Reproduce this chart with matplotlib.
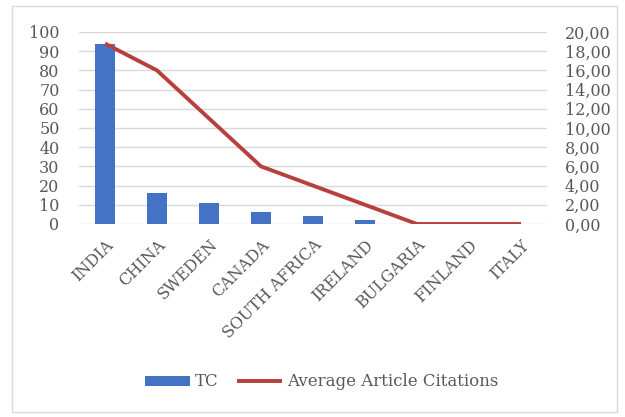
import matplotlib
matplotlib.use("Agg")
import matplotlib.pyplot as plt
from matplotlib.patches import Rectangle
from matplotlib.ticker import FuncFormatter

countries = ["INDIA", "CHINA", "SWEDEN", "CANADA", "SOUTH AFRICA",
             "IRELAND", "BULGARIA", "FINLAND", "ITALY"]
total_citations = [94, 16, 11, 6, 4, 2, 0, 0, 0]
avg_article_citations = [18.8, 16.0, 11.0, 6.0, 4.0, 2.0, 0.0, 0.0, 0.0]

BAR_COLOR = "#4472C4"
LINE_COLOR = "#B8403C"
TEXT_COLOR = "#595959"
GRID_COLOR = "#D9D9D9"
FS = 11.5

plt.rcParams["font.family"] = ["DejaVu Serif"]

W, H = 625, 417
fig = plt.figure(figsize=(W / 100, H / 100), dpi=100)
fig.patch.set_facecolor("white")

# light frame around the chart area
fig.add_artist(Rectangle((12 / W, 5 / H), 605 / W, 406 / H,
                         transform=fig.transFigure, fill=False,
                         edgecolor="#D9D9D9", linewidth=1.0))

ax = fig.add_axes([79 / W, 1 - 224 / H, 468 / W, 192 / H])
x = list(range(len(countries)))
bars = ax.bar(x, total_citations, width=0.38, color=BAR_COLOR, zorder=2,
              label="TC")
ax.set_xlim(-0.5, len(countries) - 0.5)
ax.set_ylim(0, 100)
ax.set_yticks(range(0, 101, 10))
ax.yaxis.grid(True, color=GRID_COLOR, linewidth=1.0, zorder=0)
ax.set_axisbelow(True)
for s in ax.spines.values():
    s.set_visible(False)
ax.tick_params(axis="both", length=0, colors=TEXT_COLOR, labelsize=FS)
ax.tick_params(axis="y", pad=14)
ax.tick_params(axis="x", pad=9)
ax.set_xticks(x)
ax.set_xticklabels(countries, rotation=45, ha="right", rotation_mode="anchor",
                   fontsize=FS, color=TEXT_COLOR)

ax2 = ax.twinx()
line, = ax2.plot(x, avg_article_citations, color=LINE_COLOR, linewidth=2.8,
                 solid_capstyle="butt", zorder=3,
                 label="Average Article Citations")
ax2.set_ylim(0, 20)
ax2.set_yticks(range(0, 21, 2))
ax2.yaxis.set_major_formatter(FuncFormatter(lambda v, _: f"{v:.2f}".replace(".", ",")))
for s in ax2.spines.values():
    s.set_visible(False)
ax2.tick_params(axis="y", length=0, colors=TEXT_COLOR, labelsize=FS, pad=13)

fig.legend([bars, line], ["TC", "Average Article Citations"],
           loc="center", bbox_to_anchor=(322 / W, 1 - 382 / H), ncol=2,
           frameon=False, fontsize=12, labelcolor=TEXT_COLOR,
           handlelength=2.7, handleheight=0.55, columnspacing=1.1,
           handletextpad=0.3)

fig.savefig("out.png", dpi=100, facecolor="white")
